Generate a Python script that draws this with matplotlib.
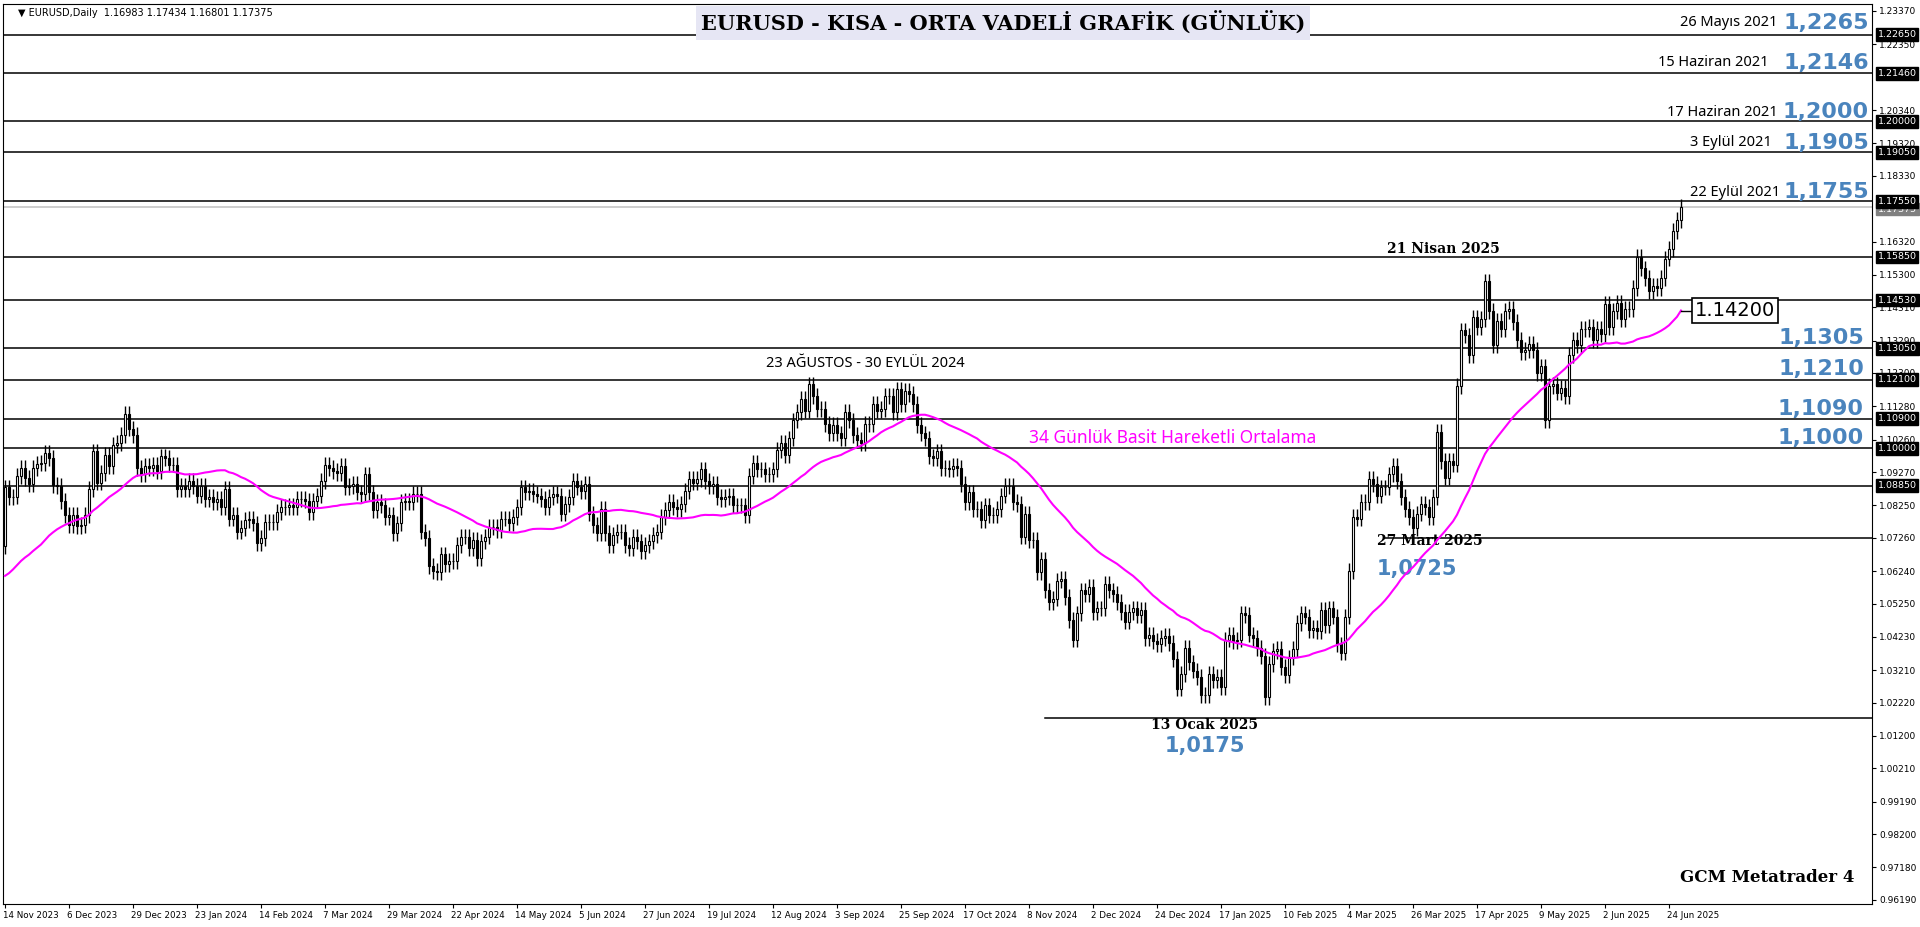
"""EURUSD daily chart (MT4 style) with key levels and 34-day SMA."""

import matplotlib
matplotlib.use("Agg")
import matplotlib.pyplot as plt
import matplotlib.transforms as mtransforms
import numpy as np
import pandas as pd

# 33 closes before the visible window (only feed the moving average)
PRE_CLOSES = [1.0570, 1.0465, 1.0470, 1.0505, 1.0550, 1.0590, 1.0565, 1.0610, 1.0620, 1.0530,
              1.0510, 1.0540, 1.0575, 1.0590, 1.0575, 1.0590, 1.0590, 1.0605, 1.0665, 1.0670,
              1.0580, 1.0565, 1.0590, 1.0575, 1.0620, 1.0565, 1.0730, 1.0725, 1.0720, 1.0700,
              1.0695, 1.0700, 1.0700]

# daily closes, 14 Nov 2023 .. 27 Jun 2025, 16 bars per x label
CLOSES = [
    1.0880, 1.0850, 1.0852, 1.0915, 1.0940, 1.0908, 1.0890, 1.0940, 1.0953, 1.0955, 1.0985, 1.0970, 1.0888, 1.0885, 1.0838, 1.0795,
    1.0765, 1.0795, 1.0762, 1.0765, 1.0795, 1.0875, 1.0990, 1.0895, 1.0925, 1.0980, 1.0945, 1.1010, 1.1015, 1.1040, 1.1105, 1.1060,
    1.1040, 1.0940, 1.0920, 1.0945, 1.0940, 1.0950, 1.0930, 1.0975, 1.0970, 1.0950, 1.0950, 1.0875, 1.0885, 1.0875, 1.0900, 1.0885,
    1.0855, 1.0885, 1.0845, 1.0850, 1.0835, 1.0845, 1.0820, 1.0875, 1.0785, 1.0795, 1.0745, 1.0755, 1.0780, 1.0785, 1.0770, 1.0710,
    1.0725, 1.0775, 1.0775, 1.0775, 1.0805, 1.0820, 1.0820, 1.0825, 1.0820, 1.0845, 1.0845, 1.0840, 1.0805, 1.0840, 1.0855, 1.0900,
    1.0950, 1.0940, 1.0930, 1.0925, 1.0945, 1.0880, 1.0885, 1.0890, 1.0865, 1.0860, 1.0920, 1.0865, 1.0810, 1.0835, 1.0825, 1.0790,
    1.0795, 1.0740, 1.0770, 1.0835, 1.0840, 1.0835, 1.0860, 1.0860, 1.0745, 1.0725, 1.0640, 1.0625, 1.0620, 1.0675, 1.0645, 1.0655,
    1.0655, 1.0705, 1.0730, 1.0730, 1.0695, 1.0720, 1.0665, 1.0715, 1.0730, 1.0760, 1.0760, 1.0750, 1.0785, 1.0785, 1.0770, 1.0790,
    1.0820, 1.0880, 1.0865, 1.0870, 1.0860, 1.0855, 1.0845, 1.0820, 1.0850, 1.0860, 1.0855, 1.0800, 1.0830, 1.0850, 1.0900, 1.0880,
    1.0870, 1.0890, 1.0800, 1.0765, 1.0740, 1.0815, 1.0740, 1.0705, 1.0735, 1.0745, 1.0745, 1.0705, 1.0695, 1.0730, 1.0715, 1.0685,
    1.0705, 1.0715, 1.0735, 1.0745, 1.0790, 1.0810, 1.0835, 1.0820, 1.0815, 1.0830, 1.0870, 1.0905, 1.0895, 1.0905, 1.0935, 1.0900,
    1.0885, 1.0890, 1.0850, 1.0845, 1.0850, 1.0855, 1.0825, 1.0825, 1.0825, 1.0795, 1.0915, 1.0955, 1.0935, 1.0935, 1.0920, 1.0920,
    1.0935, 1.0995, 1.1015, 1.0980, 1.1030, 1.1085, 1.1110, 1.1150, 1.1115, 1.1195, 1.1160, 1.1120, 1.1120, 1.1075, 1.1045, 1.1070,
    1.1045, 1.1030, 1.1110, 1.1085, 1.1040, 1.1025, 1.1015, 1.1075, 1.1075, 1.1135, 1.1115, 1.1120, 1.1160, 1.1160, 1.1110, 1.1180,
    1.1135, 1.1175, 1.1165, 1.1135, 1.1070, 1.1045, 1.1030, 1.0975, 1.0970, 1.0990, 1.0940, 1.0940, 1.0935, 1.0945, 1.0940, 1.0890,
    1.0835, 1.0865, 1.0815, 1.0815, 1.0780, 1.0825, 1.0795, 1.0795, 1.0815, 1.0855, 1.0885, 1.0885, 1.0835, 1.0830, 1.0730, 1.0800,
    1.0720, 1.0720, 1.0620, 1.0660, 1.0565, 1.0530, 1.0540, 1.0595, 1.0600, 1.0545, 1.0475, 1.0415, 1.0495, 1.0565, 1.0555, 1.0575,
    1.0500, 1.0510, 1.0510, 1.0585, 1.0565, 1.0555, 1.0530, 1.0500, 1.0470, 1.0500, 1.0510, 1.0490, 1.0505, 1.0420, 1.0430, 1.0410,
    1.0400, 1.0420, 1.0425, 1.0405, 1.0355, 1.0265, 1.0310, 1.0390, 1.0345, 1.0320, 1.0300, 1.0245, 1.0245, 1.0310, 1.0290, 1.0300,
    1.0270, 1.0415, 1.0430, 1.0410, 1.0415, 1.0495, 1.0490, 1.0430, 1.0420, 1.0390, 1.0365, 1.0240, 1.0340, 1.0380, 1.0385, 1.0330,
    1.0305, 1.0360, 1.0385, 1.0465, 1.0495, 1.0485, 1.0445, 1.0450, 1.0440, 1.0505, 1.0460, 1.0510, 1.0485, 1.0400, 1.0375, 1.0485,
    1.0625, 1.0790, 1.0785, 1.0835, 1.0835, 1.0905, 1.0890, 1.0855, 1.0880, 1.0880, 1.0920, 1.0945, 1.0900, 1.0850, 1.0815, 1.0790,
    1.0755, 1.0800, 1.0830, 1.0820, 1.0790, 1.0850, 1.1050, 1.0960, 1.0910, 1.0960, 1.0950, 1.1190, 1.1360, 1.1345, 1.1285, 1.1400,
    1.1370, 1.1395, 1.1510, 1.1420, 1.1315, 1.1390, 1.1365, 1.1420, 1.1425, 1.1385, 1.1330, 1.1295, 1.1300, 1.1320, 1.1300, 1.1230,
    1.1250, 1.1085, 1.1190, 1.1195, 1.1170, 1.1185, 1.1160, 1.1285, 1.1330, 1.1315, 1.1365, 1.1365, 1.1370, 1.1330, 1.1365, 1.1350,
    1.1440, 1.1370, 1.1420, 1.1445, 1.1395, 1.1425, 1.1425, 1.1490, 1.1585, 1.1550, 1.1520, 1.1480, 1.1495, 1.1490, 1.1520, 1.1580,
    1.1610, 1.1665, 1.16983, 1.17375,
]
FIRST_OPEN = 1.0700

DATE_LABELS = ["14 Nov 2023", "6 Dec 2023", "29 Dec 2023", "23 Jan 2024", "14 Feb 2024", "7 Mar 2024",
               "29 Mar 2024", "22 Apr 2024", "14 May 2024", "5 Jun 2024", "27 Jun 2024", "19 Jul 2024",
               "12 Aug 2024", "3 Sep 2024", "25 Sep 2024", "17 Oct 2024", "8 Nov 2024", "2 Dec 2024",
               "24 Dec 2024", "17 Jan 2025", "10 Feb 2025", "4 Mar 2025", "26 Mar 2025", "17 Apr 2025",
               "9 May 2025", "2 Jun 2025", "24 Jun 2025"]

PRICE_TICKS = [1.23370, 1.22350, 1.20340, 1.19320, 1.18330, 1.16320, 1.15300,
               1.14310, 1.13290, 1.12300, 1.11280, 1.10260, 1.09270, 1.08250, 1.07260, 1.06240,
               1.05250, 1.04230, 1.03210, 1.02220, 1.01200, 1.00210, 0.99190, 0.98200, 0.97180, 0.96190]

LEVELS = [1.2265, 1.2146, 1.2000, 1.1905, 1.1755, 1.1585, 1.1453, 1.1305, 1.1210, 1.1090, 1.1000, 1.0885]
LEVEL_TAGS = ["1.22650", "1.21460", "1.20000", "1.19050", "1.17550", "1.15850", "1.14530",
              "1.13050", "1.12100", "1.10900", "1.10000", "1.08850"]

TOP_DATES = ["26 Mayıs 2021", "15 Haziran 2021", "17 Haziran 2021", "3 Eylül 2021", "22 Eylül 2021"]
TOP_VALUES = ["1,2265", "1,2146", "1,2000", "1,1905", "1,1755"]
SIDE_VALUES = ["1,1305", "1,1210", "1,1090", "1,1000"]
SIDE_PRICES = [1.1338, 1.1242, 1.1120, 1.1030]

BLUE = "#4a84bd"
MAGENTA = "#ff00ff"

closes = np.array(CLOSES)
opens = np.concatenate([[FIRST_OPEN], closes[:-1]])
wick = 0.0024
highs = np.maximum(opens, closes) + wick
lows = np.minimum(opens, closes) - wick
idx = np.arange(len(closes))
sma = pd.Series(PRE_CLOSES + CLOSES).rolling(34).mean().to_numpy()[len(PRE_CLOSES):]

W, H = 1920, 927
fig = plt.figure(figsize=(W / 100, H / 100), dpi=100)
ax = fig.add_axes([3 / W, 1 - 904 / H, (1872 - 3) / W, (904 - 4) / H])
ax.set_xlim(-0.5, 466.75)
ax.set_ylim(0.96062, 1.23584)

# levels
for lv in LEVELS:
    ax.axhline(lv, color="black", lw=1.1, zorder=1)
ax.plot([345, 466.75], [1.0726, 1.0726], color="black", lw=1.1, zorder=1)
ax.plot([260, 466.75], [1.0175, 1.0175], color="black", lw=1.1, zorder=1)
ax.axhline(closes[-1], color="#c0c0c0", lw=1.1, zorder=1)

# candles
up = closes >= opens
ax.vlines(idx, lows, highs, color="black", lw=1, zorder=2)
ax.bar(idx[up], (closes - opens)[up], bottom=opens[up], width=0.65,
       facecolor="white", edgecolor="black", lw=0.8, zorder=3)
ax.bar(idx[~up], (opens - closes)[~up], bottom=closes[~up], width=0.65,
       facecolor="black", edgecolor="black", lw=0.8, zorder=3)

ax.plot(idx, sma, color=MAGENTA, lw=1.5, zorder=4)

# right price axis
ax.yaxis.tick_right()
ax.set_yticks(PRICE_TICKS)
ax.set_yticklabels([f"{t:.5f}" for t in PRICE_TICKS])
ax.tick_params(axis="y", labelsize=6.5, length=3, pad=2)
ax.set_xticks(np.arange(len(DATE_LABELS)) * 16)
ax.set_xticklabels(DATE_LABELS, ha="left")
ax.tick_params(axis="x", labelsize=6.3, length=3, pad=2)
for lab in ax.get_xticklabels():
    lab.set_transform(lab.get_transform() + mtransforms.ScaledTranslation(-0.02, 0, fig.dpi_scale_trans))

tr = mtransforms.blended_transform_factory(ax.transAxes, ax.transData)
for lv, tag in zip(LEVELS, LEVEL_TAGS):
    ax.text(1.003, lv, tag, transform=tr, fontsize=6.8, color="white", va="center", ha="left",
            bbox=dict(boxstyle="square,pad=0.2", fc="black", ec="black"), zorder=6, clip_on=False)
ax.text(1.003, closes[-1] - 0.0006, f"{closes[-1]:.5f}", transform=tr, fontsize=6.8, color="white",
        va="center", ha="left", bbox=dict(boxstyle="square,pad=0.2", fc="#808080", ec="#808080"),
        zorder=5, clip_on=False)

# annotations
fig.text(18 / W, 1 - 13 / H, "\u25bc EURUSD,Daily  1.16983 1.17434 1.16801 1.17375", fontsize=7, va="center")
fig.text(1003 / W, 1 - 23 / H, "EURUSD - KISA - ORTA VADELİ GRAFİK (GÜNLÜK)", fontsize=15,
         fontweight="bold", family="DejaVu Serif", ha="center", va="center",
         bbox=dict(boxstyle="square,pad=0.25", fc="#e6e6f4", ec="none"))

top_y = [23, 63, 112, 143, 192]
date_x = [1777, 1769, 1778, 1772, 1780]
for y, d, v, dx in zip(top_y, TOP_DATES, TOP_VALUES, date_x):
    fig.text(dx / W, 1 - y / H, d, fontsize=10.5, ha="right", va="center", family="Noto Sans")
    fig.text(1826 / W, 1 - y / H, v, fontsize=16, ha="center", va="center", color=BLUE,
             family="DejaVu Sans", fontweight="bold")
for v, p in zip(SIDE_VALUES, SIDE_PRICES):
    ax.text(454, p, v, fontsize=16, ha="center", va="center", color=BLUE,
            family="DejaVu Sans", fontweight="bold")

ax.text(215, 1.1235, "23 AĞUSTOS - 30 EYLÜL 2024", fontsize=10.5, ha="center", va="bottom", family="Noto Sans")
ax.text(256, 1.1005, "34 Günlük Basit Hareketli Ortalama", fontsize=12.5, ha="left", va="bottom",
        color=MAGENTA, family="Noto Sans")
ax.text(345.5, 1.1610, "21 Nisan 2025", fontsize=10, ha="left", va="center",
        family="DejaVu Serif", fontweight="bold")
ax.text(343, 1.0715, "27 Mart 2025", fontsize=10, ha="left", va="center",
        family="DejaVu Serif", fontweight="bold")
ax.text(353, 1.0630, "1,0725", fontsize=15, ha="center", va="center", color=BLUE,
        family="DejaVu Sans", fontweight="bold")
ax.text(300, 1.0155, "13 Ocak 2025", fontsize=10, ha="center", va="center",
        family="DejaVu Serif", fontweight="bold")
ax.text(300, 1.0088, "1,0175", fontsize=15, ha="center", va="center", color=BLUE,
        family="DejaVu Sans", fontweight="bold")
fig.text(1767 / W, 1 - 878 / H, "GCM Metatrader 4", fontsize=12, ha="center", va="center",
         family="DejaVu Serif", fontweight="bold")

# MA value box
ax.plot([idx[-1], idx[-1] + 3], [sma[-1], sma[-1]], color="black", lw=1, zorder=5)
ax.text(idx[-1] + 3.5, sma[-1], "1.14200", fontsize=14, ha="left", va="center",
        bbox=dict(boxstyle="square,pad=0.15", fc="white", ec="black", lw=1.2), zorder=6)

fig.savefig("out.png", dpi=100)
